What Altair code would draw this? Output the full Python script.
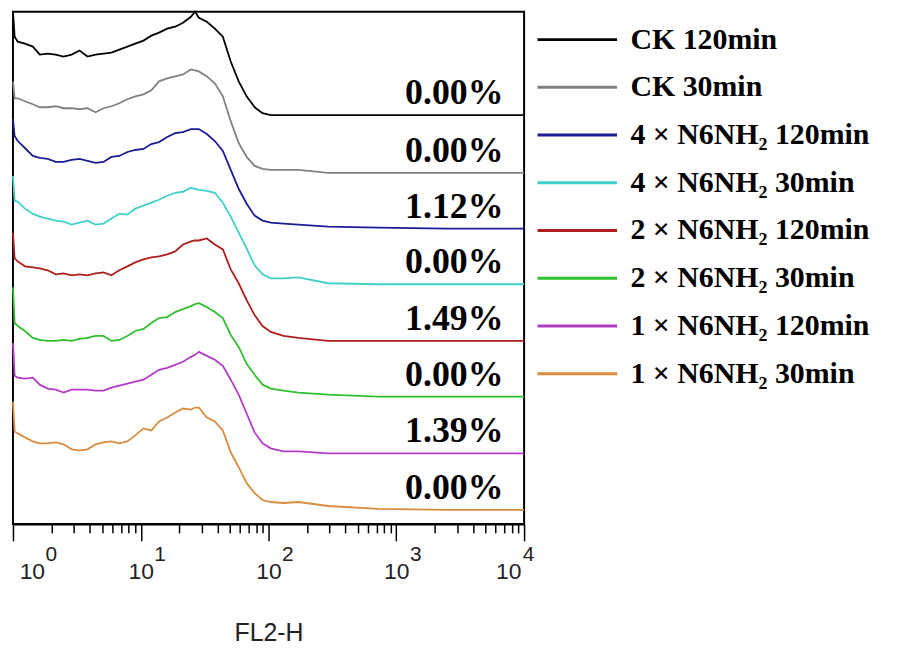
import altair as alt
import pandas as pd

# FL2-H channel values (shared sampling grid for all histograms)
fl2h = [1.00, 1.03, 1.09, 1.24, 1.43, 1.62, 1.87, 2.16, 2.49, 2.88,
        3.32, 3.83, 4.43, 5.11, 5.89, 6.80, 7.85, 9.06, 10.5, 12.1,
        13.9, 16.1, 18.6, 21.4, 24.7, 26.6, 28.5, 32.9, 38.0, 43.9,
        50.6, 58.4, 67.4, 77.8, 89.8, 104, 131, 171, 293, 718,
        2520, 10000]

series = ["CK 120min", "CK 30min",
          "4 × N6NH₂ 120min", "4 × N6NH₂ 30min",
          "2 × N6NH₂ 120min", "2 × N6NH₂ 30min",
          "1 × N6NH₂ 120min", "1 × N6NH₂ 30min"]
colors = ["#000000", "#808080", "#1c1c96", "#3fd0cc",
          "#b01e1e", "#2fbf2f", "#b23cc8", "#d98b3f"]
# vertical offset of each stacked histogram
offsets = [411, 353, 297, 241, 184, 128, 71, 14]
pct = ["0.00%", "0.00%", "1.12%", "0.00%", "1.49%", "0.00%", "1.39%", "0.00%"]

ck120 = [104, 79, 74, 72, 69, 61, 62, 61, 59, 61, 65, 59, 61, 62, 63, 66, 69, 72, 75, 80,
         83, 87, 89, 93, 99, 104, 98, 94, 87, 79, 54, 34, 19, 8, 2, 0, 0, 0, 0, 0, 0, 0]
ck30 = [92, 75, 75, 72, 69, 66, 66, 67, 65, 65, 64, 65, 61, 65, 67, 70, 74, 77, 79, 83,
        92, 95, 97, 99, 104, 103, 102, 97, 90, 77, 52, 30, 16, 7, 4, 3, 3, 3, 0, 0, 0, 0]
x4_120 = [110, 93, 88, 81, 73, 71, 70, 67, 67, 69, 70, 68, 66, 67, 72, 73, 77, 79, 80, 85,
          87, 92, 96, 97, 100, 100, 100, 95, 88, 78, 59, 40, 25, 13, 8, 6, 5, 4, 2, 1, 0, 0]
x4_30 = [109, 84, 83, 76, 71, 68, 66, 64, 63, 60, 62, 64, 60, 61, 66, 71, 70, 76, 79, 82,
         85, 89, 92, 93, 97, 96, 95, 94, 92, 82, 68, 52, 36, 19, 10, 6, 6, 7, 1, 0, 0, 0]
x2_120 = [109, 83, 80, 75, 74, 73, 71, 67, 68, 66, 67, 66, 68, 69, 66, 71, 75, 79, 82, 84,
          85, 87, 90, 97, 100, 101, 101, 103, 97, 92, 72, 58, 41, 26, 15, 9, 5, 3, 0, 0, 0, 0]
x2_30 = [110, 74, 71, 66, 59, 57, 56, 56, 57, 56, 58, 59, 61, 61, 56, 57, 61, 66, 68, 74,
         79, 80, 85, 88, 91, 93, 94, 90, 85, 79, 62, 50, 33, 22, 12, 8, 6, 4, 2, 0, 0, 0]
x1_120 = [111, 78, 76, 75, 76, 69, 65, 64, 61, 64, 64, 64, 63, 63, 66, 68, 70, 72, 74, 79,
          84, 86, 89, 92, 97, 99, 102, 98, 94, 88, 74, 59, 40, 21, 10, 5, 2, 2, 0, 0, 0, 0]
x1_30 = [109, 79, 77, 73, 69, 67, 67, 68, 66, 61, 60, 61, 66, 68, 69, 67, 69, 75, 82, 80,
         89, 93, 98, 102, 101, 103, 103, 93, 89, 80, 58, 43, 27, 17, 10, 8, 7, 8, 4, 1, 0, 0]
counts = [ck120, ck30, x4_120, x4_30, x2_120, x2_30, x1_120, x1_30]

major_ticks = [1, 10, 100, 1000, 10000]
minor_ticks = [m * 10 ** k for k in range(4) for m in range(2, 10)]

rows = []
for name, off, cs in zip(series, offsets, counts):
    for xv, c in zip(fl2h, cs):
        rows.append({"series": name, "FL2-H": xv, "y": off + c})
df = pd.DataFrame(rows)

lab = pd.DataFrame({"series": series, "pct": pct,
                    "FL2-H": [6900] * len(series),
                    "y": [o + 11 for o in offsets]})

xscale = alt.Scale(type="log", domain=[1, 10000], nice=False)
yscale = alt.Scale(domain=[0, 515], nice=False, zero=False)

MAJOR = "abs(log(datum.value)/LN10 - round(log(datum.value)/LN10)) < 0.001"

ax1 = alt.Axis(
    orient="bottom", values=sorted(major_ticks + minor_ticks), grid=False,
    domainColor="black", domainWidth=2,
    tickColor="black", tickWidth=1.5,
    tickSize={"condition": {"test": MAJOR, "value": 17}, "value": 9},
    labelExpr=f"({MAJOR}) ? '10' : ''",
    labelOffset={"condition": [{"test": "datum.value == 1", "value": 19},
                               {"test": "datum.value == 10000", "value": -16}],
                 "value": 0},
    labelFont="Liberation Sans", labelFontSize=23, labelColor="#222",
    labelBaseline="alphabetic", labelPadding=38,
    labelFlush=False, labelOverlap=False, labelBound=False,
    title="FL2-H", titleFont="Liberation Sans", titleFontSize=25,
    titleFontWeight="normal", titleColor="#222",
    titleBaseline="alphabetic", titleY=117,
)

ax2 = alt.Axis(
    orient="bottom", values=major_ticks, grid=False, domain=False,
    ticks=False, tickSize=0,
    labelExpr="format(round(log(datum.value)/LN10), 'd')",
    labelOffset={"condition": [{"test": "datum.value == 1", "value": 38},
                               {"test": "datum.value == 10000", "value": 4}],
                 "value": 19},
    labelFont="Liberation Sans", labelFontSize=21, labelColor="#222",
    labelBaseline="alphabetic", labelPadding=37,
    labelFlush=False, labelOverlap=False, labelBound=False, title=None,
)

legend = alt.Legend(
    orient="none", legendX=526, legendY=13, title=None,
    symbolType="stroke", symbolSize=6400, symbolStrokeWidth=3,
    labelFont="Liberation Serif", labelFontWeight="bold", labelFontSize=30,
    labelColor="black", labelOffset=12, labelLimit=400,
    clipHeight=30, rowPadding=18, padding=0,
)

lines = alt.Chart(df).mark_line(strokeWidth=1.8).encode(
    x=alt.X("FL2-H:Q", scale=xscale, axis=ax1),
    y=alt.Y("y:Q", scale=yscale, axis=None),
    color=alt.Color("series:N", scale=alt.Scale(domain=series, range=colors),
                    legend=legend),
    detail="series:N",
)

labels = alt.Chart(lab).mark_text(
    font="Liberation Serif", fontWeight="bold", fontSize=36,
    align="right", baseline="alphabetic", color="black",
).encode(
    x=alt.X("FL2-H:Q", scale=xscale, axis=ax2),
    y=alt.Y("y:Q", scale=yscale, axis=None),
    text="pct:N",
)

chart = (
    alt.layer(lines, labels)
    .resolve_axis(x="independent")
    .properties(
        width=514, height=515,
        padding={"left": 5, "top": 2, "right": 373, "bottom": 121},
        autosize=alt.AutoSizeParams(type="none"),
        background="white",
    )
    .configure_view(stroke="black", strokeWidth=2)
)

chart.save("out.html", embed_options={"renderer": "svg", "actions": False})
